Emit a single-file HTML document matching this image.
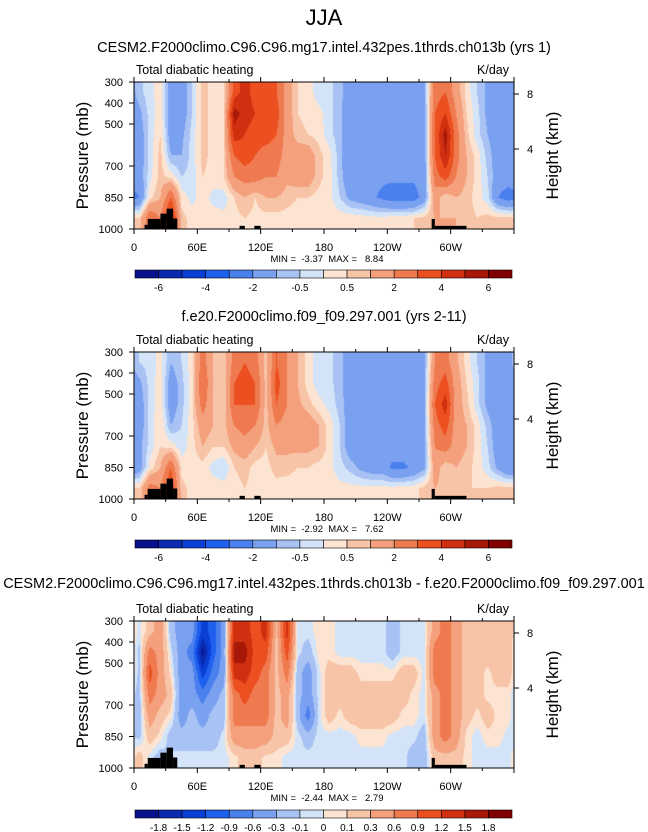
<!DOCTYPE html>
<html><head><meta charset="utf-8"><style>
html,body{margin:0;padding:0;background:#fff;}
#wrap{position:relative;width:648px;height:832px;overflow:hidden;font-family:"Liberation Sans",sans-serif;}
canvas{position:absolute;}
svg{position:absolute;left:0;top:0;}
.pre{white-space:pre;}
</style></head><body>
<div id="wrap">
<canvas id="c0" width="380" height="147" style="left:134px;top:82px"></canvas>
<canvas id="c1" width="380" height="147" style="left:134px;top:352px"></canvas>
<canvas id="c2" width="380" height="147" style="left:134px;top:621px"></canvas>
<svg id="svg" width="648" height="832"></svg>
</div>
<script>
// Data: 36 longitude columns (10 deg each, 0..360E), 7 pressure bands (300-400 ... 900-1000 mb)
const lonTickLabels = ["0","60E","120E","180","120W","60W"];
const presTicks = [300,400,500,700,850,1000];
const presTickLabels = ["300","400","500","700","850","1000"];
const levelsMain = [-6,-5,-4,-3,-2,-1,-0.5,0,0.5,1,2,3,4,5,6];
const levelsDiff = [-1.8,-1.5,-1.2,-0.9,-0.6,-0.3,-0.1,0,0.1,0.3,0.6,0.9,1.2,1.5,1.8];
const labelsMain = ["-6","-4","-2","-0.5","0.5","2","4","6"];
const labelsDiff = ["-1.8","-1.5","-1.2","-0.9","-0.6","-0.3","-0.1","0","0.1","0.3","0.6","0.9","1.2","1.5","1.8"];
const palette = ['#08108c','#0a2bb0','#0a3fd6','#2060ee','#4a80ee','#7aa0f0','#a8c2f4','#d4e4f8','#fde4d2','#f8c4a8','#f4a07c','#f07a50','#ec5020','#d03010','#a81808','#800000'];

const heat1 = [
[-0.7,-0.2,0.3,-1.5,-1.5,-0.5,0.7,0.3,0.3,3.5,4.5,3.5,3,3,1.5,0.5,0.3,-0.3,-0.3,-0.8,-1.5,-1.5,-1.5,-1.5,-1.5,-1.5,-1.5,-1.2,2.5,3,1.5,0.3,-0.5,-1.2,-1.5,-1.5],
[-1.2,-0.3,0.3,-1.5,-1.5,-0.5,0.7,0.3,0.3,5.5,4.5,4,3.5,3.5,1.5,0.5,0.3,0.2,-0.3,-0.8,-1.8,-1.8,-1.8,-1.8,-1.8,-1.8,-1.8,-1.5,3,4,2,0.5,-0.3,-1.2,-1.5,-1.5],
[-1.5,-0.3,0.5,-1.5,-1.2,-0.3,0.7,0.3,0.5,4.5,4,3.5,3.5,3,1.5,0.7,0.5,0.3,-0.3,-0.8,-1.8,-1.8,-1.8,-1.8,-1.8,-1.8,-1.8,-1.5,3,5.5,2.5,0.7,-0.3,-1,-1.5,-1.5],
[-1.5,-0.3,0.7,-1,-1,-0.3,0.7,0.3,0.5,3,3.5,3,2.5,2.5,1.5,1.5,1.5,0.7,0.2,-0.8,-1.8,-1.8,-1.8,-1.8,-1.8,-1.8,-1.8,-1.5,3,5,2.5,1,0.3,-0.7,-1.5,-1.5],
[-1.5,-0.2,0.7,0.3,-0.5,-0.3,0.5,0.3,0.5,2,2.5,2.5,2,2,1.2,1.5,1.5,0.7,0.2,-0.7,-1.8,-1.8,-1.8,-1.8,-1.8,-1.8,-1.8,-1.5,2.5,3.5,2,1,0.3,-0.5,-1.5,-1.5],
[-2,0.3,1,3,0.3,-0.2,0.3,-0.2,-0.3,0.5,1,0.5,1,1,0.7,0.5,0.5,0.3,0.2,-0.5,-1.2,-1.5,-1.8,-2.2,-2.5,-2.5,-2.5,-1.5,1.5,0.5,1,0.7,0.3,-0.3,-2,-2.5],
[0.5,3,2,5,0.7,0.3,0.3,0.3,0.2,0.3,0.5,0.3,0.3,0.3,0.3,0.3,0.3,0.3,0.3,0.3,0.3,0.3,0.2,0.2,0.3,0.3,0.5,0.7,1,1,1,0.7,0.5,0.7,0.7,0.7]
];
const heat2 = [
[-0.5,-0.3,0.2,-1,-0.5,0.3,2.5,1,0.5,2.5,3,2.5,0.7,3,2,1,0.3,-0.3,-0.3,-0.8,-1.5,-1.5,-1.5,-1.5,-1.5,-1.5,-1.5,-1.2,2,2.5,1.2,0.3,-0.5,-1.2,-1.2,-1.2],
[-1.2,-0.3,0.3,-1.5,-0.7,0.3,3,1,0.5,3,3.5,3,0.7,3.5,2,1,0.3,-0.3,-0.3,-0.8,-1.5,-1.5,-1.5,-1.5,-1.5,-1.5,-1.5,-1.2,2.5,3.5,1.5,0.5,-0.3,-1.2,-1.5,-1.5],
[-1.5,-0.3,0.3,-1.5,-0.7,0.3,2.5,1,0.5,3,3,3,0.7,3,2,1.2,0.7,0.2,-0.2,-0.7,-1.5,-1.5,-1.5,-1.5,-1.5,-1.5,-1.5,-1.2,3,4.5,1.5,0.7,-0.3,-1.2,-1.5,-1.5],
[-1.5,-0.3,0.5,-1,-0.5,0.3,1.5,1,0.7,2,2.5,2,0.7,2,1.5,1.5,1.5,1,0.3,-0.5,-1.5,-1.5,-1.5,-1.5,-1.5,-1.5,-1.5,-1.2,2.5,3.5,1.5,1,0.3,-0.7,-1.5,-1.5],
[-1.2,-0.3,0.5,0.3,-0.3,0.3,1,0.5,0.5,1.2,1.5,1,0.5,1.2,1.2,1.2,1.2,1,0.3,-0.5,-1.5,-1.5,-1.5,-1.5,-1.5,-1.5,-1.5,-1.2,2,2.5,1.5,1,0.3,-0.5,-1.5,-1.5],
[-1.5,0.2,1,3,0.3,0.2,0.3,-0.2,-0.5,0.5,0.7,0.3,0.3,0.7,0.7,0.5,0.5,0.3,0.2,-0.3,-0.7,-1.2,-1.5,-1.5,-2.2,-2.2,-1.8,-1.2,1.5,0.5,1,0.7,0.3,-0.3,-1.2,-2],
[0.5,2.5,2,4,0.7,0.3,0.3,0.3,0.3,0.3,0.5,0.3,0.3,0.3,0.2,0.2,0.2,0.2,0.2,0.2,0.2,0.2,0.2,0.2,0.2,0.3,0.3,0.7,1,0.7,0.7,0.5,0.5,0.5,0.7,0.7]
];
const heatDiff = [
[-0.05,0.2,0.45,-0.2,-0.45,-0.45,-1.35,-1.05,-0.45,1.35,1.35,1.05,1.35,0.2,1.35,-0.05,-0.05,0.05,0.05,-0.05,-0.05,-0.05,-0.05,-0.05,-0.2,-0.05,-0.05,-0.05,0.45,0.75,0.45,0.2,0.2,0.2,0.2,0.2],
[-0.15,0.75,0.45,-0.05,-0.45,-0.75,-1.9,-1.05,-0.45,1.65,1.65,1.05,1.05,0.2,1.05,-0.05,-0.2,0.05,0.05,-0.05,-0.05,-0.05,-0.05,-0.05,-0.2,-0.05,-0.05,-0.05,0.75,0.75,0.45,0.2,0.2,0.2,0.2,0.2],
[-0.15,1.05,0.45,0.05,-0.45,-0.45,-1.35,-0.75,-0.45,1.35,1.35,1.05,0.75,0.2,0.75,-0.2,-0.45,-0.05,0.2,0.2,0.2,0.05,0.05,0.05,0.05,0.2,0.2,-0.05,0.75,0.75,0.45,0.2,0.2,0.05,0.2,0.2],
[-0.2,0.75,0.45,0.2,-0.45,-0.45,-0.75,-0.45,-0.2,0.75,1.05,0.75,0.75,0.2,0.45,-0.2,-0.45,-0.05,0.2,0.2,0.2,0.2,0.2,0.2,0.2,0.2,0.05,-0.05,0.45,0.75,0.45,0.2,0.2,0.05,0.05,0.05],
[-0.2,0.45,0.2,0.05,-0.45,-0.2,-0.45,-0.2,-0.2,0.75,0.75,0.75,0.75,0.2,0.45,-0.2,-0.75,-0.05,0.2,0.05,0.2,0.2,0.2,0.2,0.2,0.05,0.05,-0.05,0.45,0.75,0.45,0.2,0.05,0.2,0.05,0.05],
[-0.15,0.2,0.05,-0.2,-0.2,-0.2,-0.2,-0.2,-0.05,0.45,0.45,0.45,0.45,0.2,0.2,-0.05,-0.2,-0.05,-0.05,-0.05,-0.05,0.05,0.05,0.05,-0.05,-0.05,-0.05,-0.2,0.45,0.75,0.45,0.05,-0.05,0.05,0.05,-0.05],
[0.2,-0.05,-0.2,-0.05,-0.05,-0.05,-0.05,-0.05,-0.05,0.05,0.2,0.2,0.05,0.05,-0.05,-0.05,-0.05,-0.05,-0.05,-0.05,-0.05,-0.05,-0.05,-0.05,-0.05,-0.05,-0.2,-0.2,0.2,0.2,0.2,0.05,-0.05,-0.05,-0.05,-0.05]
];
// Topography: [lonStart, lonEnd, topPressure]
const topoLon0 = [10,13,25,31,37,100,114,282,285];
const topoLon1 = [13,25,31,37,41,105,120,285,315];
const topoTop = [980,952,927,903,950,985,985,952,985];

const NS='http://www.w3.org/2000/svg';
const svg=document.getElementById('svg');
const PX=134, PW=380, PH=147;
function xOf(lon){return PX+lon/360*PW;}
function yOf(T,p){return T+(p-300)/700*PH;}
function el(tag,attrs,parent){const e=document.createElementNS(NS,tag);for(const k in attrs)e.setAttribute(k,attrs[k]);(parent||svg).appendChild(e);return e;}
function txt(x,y,s,size,anchor,extra){const t=el('text',Object.assign({x:x,y:y,'font-size':size,'text-anchor':anchor||'start',fill:'#000','font-family':'Liberation Sans, sans-serif'},extra||{}));t.textContent=s;return t;}

function hexRgb(h){return [parseInt(h.substr(1,2),16),parseInt(h.substr(3,2),16),parseInt(h.substr(5,2),16)];}
const pal=palette.map(hexRgb);
function drawField(id,data,levels){
  const c=document.getElementById(id),ctx=c.getContext('2d');
  const img=ctx.createImageData(PW,PH);
  const nc=data[0].length,nr=data.length;
  for(let j=0;j<PH;j++){
    const p=300+(j+0.5)/PH*700;
    let v=(p-300)/100-0.5; v=Math.max(0,Math.min(nr-1,v));
    const r0=Math.floor(v),r1=Math.min(nr-1,r0+1),fv=v-r0;
    for(let i=0;i<PW;i++){
      let u=(i+0.5)/PW*nc-0.5;
      let c0=Math.floor(u),fu=u-c0;
      const ca=(c0+nc)%nc,cb=(c0+1)%nc;
      const val=(data[r0][ca]*(1-fu)+data[r0][cb]*fu)*(1-fv)+(data[r1][ca]*(1-fu)+data[r1][cb]*fu)*fv;
      let k=0;while(k<levels.length&&levels[k]<=val)k++;
      const col=pal[k],o=(j*PW+i)*4;
      img.data[o]=col[0];img.data[o+1]=col[1];img.data[o+2]=col[2];img.data[o+3]=255;
    }
  }
  ctx.putImageData(img,0,0);
}

const panels=[
 {T:82,id:'c0',data:heat1,levels:levelsMain,labels:labelsMain,every:2,title:'CESM2.F2000climo.C96.C96.mg17.intel.432pes.1thrds.ch013b (yrs 1)',ty:52,min:'-3.37',max:'8.84',cb:270},
 {T:352,id:'c1',data:heat2,levels:levelsMain,labels:labelsMain,every:2,title:'f.e20.F2000climo.f09_f09.297.001 (yrs 2-11)',ty:321,min:'-2.92',max:'7.62',cb:540},
 {T:621,id:'c2',data:heatDiff,levels:levelsDiff,labels:labelsDiff,every:1,title:'CESM2.F2000climo.C96.C96.mg17.intel.432pes.1thrds.ch013b - f.e20.F2000climo.f09_f09.297.001',ty:588,min:'-2.44',max:'2.79',cb:810}
];

let t=txt(324,25,'JJA',22,'middle');



panels.forEach((P,pi)=>{
  drawField(P.id,P.data,P.levels);
  const T=P.T,g=el('g',{});
  
  
  for(let k=0;k<topoLon0.length;k++){
    const r=el('rect',{x:xOf(topoLon0[k]),y:yOf(T,topoTop[k]),width:xOf(topoLon1[k])-xOf(topoLon0[k]),height:yOf(T,1000)-yOf(T,topoTop[k]),fill:'#000'},g);
    
    
  }
  el('rect',{x:PX,y:T,width:PW,height:PH,fill:'none',stroke:'#000','stroke-width':1},g);
  for(let lon=0;lon<=360;lon+=30){
    const x=xOf(lon),L=lon%60===0?5:3;
    el('line',{x1:x,x2:x,y1:T,y2:T-L,stroke:'#000'},g);
    el('line',{x1:x,x2:x,y1:T+PH,y2:T+PH+L,stroke:'#000'},g);
  }
  lonTickLabels.forEach((s,k)=>{const l=txt(xOf(k*60),T+PH+22,s,11,'middle');});
  presTicks.forEach((p,k)=>{
    const y=yOf(T,p);
    el('line',{x1:PX,x2:PX-5,y1:y,y2:y,stroke:'#000'},g);
    const l=txt(PX-11,y+4,presTickLabels[k],11,'end');
    
    
  });
  [[8,12],[4,67]].forEach(h=>{
    el('line',{x1:PX+PW,x2:PX+PW+5,y1:T+h[1],y2:T+h[1],stroke:'#000'},g);
    const l=txt(PX+PW+13,T+h[1]+4,String(h[0]),11,'start');
    
    
  });
  let s=txt(324,P.ty,P.title,14.5,'middle');
  
  
  s=txt(136,T-8,'Total diabatic heating',12.5,'start');
  
  
  s=txt(509,T-8,'K/day',12.5,'end');
  
  
  s=txt(88,T+PH/2,'Pressure (mb)',17,'middle',{transform:'rotate(-90 88 '+(T+PH/2)+')'});
  
  
  s=txt(558,T+PH/2,'Height (km)',17,'middle',{transform:'rotate(-90 558 '+(T+PH/2)+')'});
  
  
  s=txt(327,T+PH+33,'MIN =  '+P.min+'  MAX =   '+P.max,9.5,'middle',{'class':'pre'});
  
  
  const cx0=135,cw=377,n=palette.length,bw=cw/n,cy=P.cb;
  for(let k=0;k<n;k++){
    const r=el('rect',{x:cx0+k*bw,y:cy,width:bw,height:8,fill:palette[k],stroke:'#000','stroke-width':0.6},g);
    
    
  }
  P.labels.forEach((lab,k)=>{
    const bi=1+k*P.every;
    const l=txt(cx0+bi*bw,cy+21,lab,10,'middle');
    
    
  });
});
</script>
</body></html>
